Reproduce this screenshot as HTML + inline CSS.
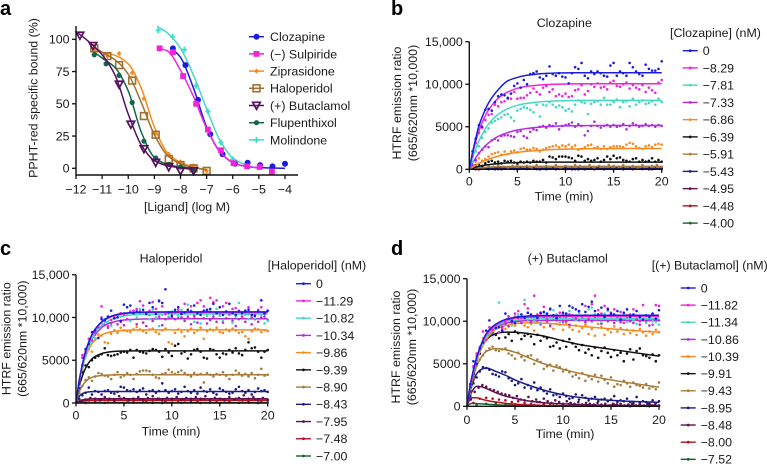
<!DOCTYPE html>
<html lang="en">
<head>
<meta charset="utf-8">
<title>Kinetic binding figure</title>
<style>
html,body{margin:0;padding:0;background:#fff;width:767px;height:464px;overflow:hidden}
svg{display:block;filter:blur(0.3px)}
text{font-family:"Liberation Sans",sans-serif;font-size:12.4px;fill:#1a1a1a}
.panel-letter{font-weight:bold;font-size:20px;fill:#000}
</style>
</head>
<body>
<svg id="figure" width="767" height="464" viewBox="0 0 767 464" xmlns="http://www.w3.org/2000/svg">
  <text class="panel-letter" x="0" y="15">a</text>
  <text class="panel-letter" x="391" y="15">b</text>
  <text class="panel-letter" x="0" y="255">c</text>
  <text class="panel-letter" x="391" y="255">d</text>
</svg>
<script>
/* ---------- panel a data ---------- */
const aXTicks = [-12,-11,-10,-9,-8,-7,-6,-5,-4];
const aYTicks = [0,25,50,75,100];
const aNames = ['Clozapine','(\u2212) Sulpiride','Ziprasidone','Haloperidol','(+) Butaclamol','Flupenthixol','Molindone'];
const aClozapineX = [-8.29,-7.81,-7.33,-6.86,-6.39,-5.91,-5.43,-4.95,-4.48,-4];
const aClozapineY = [93,80,53,26.4,11,3.5,4.3,2.5,1.5,3.5];
const aClozapineFitX = [-8.29,-8,-7.5,-7,-6.5,-6,-5.5,-5,-4];
const aClozapineFitY = [92,86,62,32,13,4.5,1.5,0.5,0];
const aSulpirideX = [-8.8,-8.29,-7.9,-7.4,-6.95,-6.45,-5.97,-5.45,-4.97,-4.5];
const aSulpirideY = [93,90,71.5,50,30,14,4,1.5,1,-2.5];
const aSulpirideFitX = [-8.8,-8.5,-8,-7.5,-7,-6.5,-6,-5.5,-5];
const aSulpirideFitY = [93,91,76,55.5,31,13,4.5,1.5,0.3];
const aZiprasidoneX = [-11.3,-10.8,-10.35,-9.85,-9.4,-8.95,-8.45,-8,-7.5,-7];
const aZiprasidoneY = [91,87,89,74,54,27,11,5,2,-2];
const aZiprasidoneFitX = [-11.3,-11,-10.5,-10,-9.5,-9,-8.5,-8,-7.5,-7];
const aZiprasidoneFitY = [93,90,87.5,81,62,32,12,4.5,1,-1.5];
const aHaloperidolX = [-11.3,-10.8,-10.35,-9.85,-9.4,-8.95,-8.45,-8,-7.5,-7];
const aHaloperidolY = [93,87,80,68,40.5,26,7,2.5,0,-2];
const aHaloperidolFitX = [-11.3,-11,-10.5,-10,-9.5,-9,-8.5,-8,-7.5,-7];
const aHaloperidolFitY = [94,90,84,73,51,26,10,3.5,0.5,-1];
const aButaclamolX = [-11.85,-11.35,-10.35,-9.9,-9.4,-8.95,-8.45,-8,-7.5];
const aButaclamolY = [103,95,65,34,15,4.5,1,-2,-2];
const aButaclamolFitX = [-12,-11.5,-11,-10.5,-10,-9.5,-9,-8.5,-8,-7.5];
const aButaclamolFitY = [106,98,88,72,42,18,6,2,0.5,-1];
const aFlupenthixolX = [-11.3,-10.85,-10.35,-9.85,-9.4,-8.95,-8.45,-8,-7.5];
const aFlupenthixolY = [88,81,72,51,21,8,3,1,-1.5];
const aFlupenthixolFitX = [-11.3,-11,-10.5,-10,-9.5,-9,-8.5,-8,-7.5];
const aFlupenthixolFitY = [90,85.5,78,60,28,8.5,3,1,0];
const aMolindoneX = [-8.85,-8.3,-7.85,-7.4,-6.95,-6.45,-6];
const aMolindoneY = [107,102,92,64,44,20,7];
const aMolindoneFitX = [-8.9,-8.5,-8,-7.5,-7,-6.5,-6,-5.5];
const aMolindoneFitY = [110,105,93,72,46,22,8,2.5];

/* ---------- shared time-course axes ---------- */
const timeTicks = [0,5,10,15,20];
const ratioTicks = [0,5000,10000,15000];
const ratioTickLabels = ['0','5000','10,000','15,000'];
const fitTimes = [0,0.25,0.5,1,1.5,2,3,4,5,6,8,10,12,15,20];

/* ---------- panel b data ---------- */
const bLabels = ['0','\u22128.29','\u22127.81','\u22127.33','\u22126.86','\u22126.39','\u22125.91','\u22125.43','\u22124.95','\u22124.48','\u22124.00'];
const b_f0 = [0,1500,2800,5100,6600,7800,9350,10400,10800,11050,11280,11340,11350,11350,11350];
const b_f1 = [0,1370,2560,4490,5920,6970,8340,9100,9520,9760,9960,10020,10050,10050,10050];
const b_f2 = [0,1000,1870,3320,4440,5320,6470,7120,7520,7750,7980,8060,8100,8100,8100];
const b_f3 = [0,550,1050,1880,2560,3100,3870,4320,4620,4800,5020,5100,5130,5150,5150];
const b_f4 = [0,200,375,690,960,1190,1550,1800,1990,2120,2280,2370,2410,2430,2450];
const b_f5 = [0,100,200,350,460,550,670,750,790,820,840,850,850,850,850];
const b_f6 = [0,50,90,160,210,250,300,330,340,350,350,350,350,350,350];
const b_f7 = [0,20,40,70,90,100,120,130,130,130,130,130,130,130,130];
const b_f8 = [0,15,30,50,70,80,90,100,100,100,100,100,100,100,100];
const b_f9 = [0,10,20,30,40,50,50,60,60,60,60,60,60,60,60];
const b_f10 = [0,5,10,15,20,25,30,30,30,30,30,30,30,30,30];
const b_s0 = [2100,3600,5200,5000,7000,7100,6900,7900,8600,8800,8700,8400,8900,9800,10100,9600,10500,10000,11200,11300,11500,10800,10600,11000,12100,11200,11000,11300,10900,10800,10100,11300,12000,11800,12500,11000,10700,11500,11200,11500,11300,11000,10900,12200,12500,11000,11500,11300,11000,12500,12000,11500,11200,11000,12300,11800,11600,11600,11800,12700];
const b_s1 = [1500,3100,4300,4900,5800,6400,6500,7600,7400,7900,8000,8300,8300,9100,8300,8400,8400,8700,9000,9500,9100,8800,9600,9800,9100,9400,8600,8800,8600,8900,8500,8600,9300,9400,9900,8800,9200,10000,9700,10100,9600,9700,9400,10200,10400,9800,9700,10000,10200,9500,9900,9600,9400,9900,9100,9600,9300,9000,10200,10500];
const b_s2 = [900,2100,2700,3700,4400,4800,5500,5700,5900,6100,6400,6500,6100,5700,6900,7100,7300,7200,7000,6700,7600,6200,7600,7500,7900,7600,7300,7500,7300,6900,7100,6800,7600,8100,7900,7800,6500,7700,7900,8000,7600,8400,7600,7600,7900,8200,7300,7900,8000,7400,8300,7600,7900,8100,7700,7800,8000,7600,8300,7900];
const b_s3 = [500,1100,1900,2300,2700,2600,3400,3600,3400,3900,4000,4000,3900,3800,4400,4500,3900,3700,4400,4700,4600,5000,5100,4900,5200,5100,5400,4700,5100,5200,5300,5500,5000,5300,5100,4000,4500,5100,5600,5100,4900,5100,5200,5000,5200,5000,5100,5300,4700,5100,5400,5200,5000,5100,5300,5100,5200,5000,5200,5100];
const b_s4 = [300,900,1300,1000,1200,1500,1800,1900,2000,1700,2100,1800,2100,2200,2000,2400,2500,2300,2300,2500,2400,2100,2300,2500,2600,2700,2800,2600,2800,2700,2900,2600,2800,2300,2400,2600,2800,2900,2500,2600,2400,2700,2400,2600,2700,2700,2700,2600,2900,3100,3000,2700,2500,2400,2700,2800,2600,2900,3000,2900];
const b_s5 = [300,500,600,400,700,900,1000,800,900,700,1000,900,1000,800,700,900,800,900,800,1000,900,900,1100,800,1500,1400,1200,1500,1500,1500,1400,1300,1000,1600,1500,1000,1200,1000,1100,1300,900,1100,1500,1200,1600,1300,1400,1100,1000,900,1200,1300,900,1100,900,1000,1300,900,1100,900];
const b_s6 = [100,300,200,400,300,500,300,200,400,500,300,400,200,500,300,400,300,500,200,400,300,500,400,300,500,200,400,300,500,400,300,500,300,400,200,500,300,400,500,300];
const b_s7 = [50,200,100,0,100,200,50,150,100,200,0,100,150,50,200,100,0,150,100,200,50,100,200,0,150,100,50,200,100,150];
const b_s8 = [0,100,50,150,0,100,50,100,150,50,0,100,100,50,150,0,100,50,100,150,0,100,50,150,100,50,100,0,100,50];
const b_s9 = [0,50,20,80,0,60,30,70,0,50,20,60,0,70,30,50,0,60,20,80];
const b_s10 = [200,0,30,60,0,40,20,0,50,10,30,0,60,20,0,40,10,30,0,50];

/* ---------- panel c data ---------- */
const cLabels = ['0','\u221211.29','\u221210.82','\u221210.34','\u22129.86','\u22129.39','\u22128.90','\u22128.43','\u22127.95','\u22127.48','\u22127.00'];
const c_f0 = [0,2000,3640,6020,7600,8640,9780,10270,10490,10580,10640,10650,10650,10650,10650];
const c_f1 = [0,2000,3600,5950,7500,8550,9700,10200,10430,10530,10590,10600,10600,10600,10600];
const c_f2 = [0,1800,3350,5600,7100,8150,9350,9900,10170,10300,10380,10400,10400,10400,10400];
const c_f3 = [0,1950,3500,5700,7100,8000,9100,9500,9700,9780,9840,9850,9850,9850,9850];
const c_f4 = [0,1890,3360,5400,6640,7390,8120,8390,8490,8530,8550,8550,8550,8550,8550];
const c_f5 = [0,1480,2600,4070,4950,5440,5880,6030,6080,6100,6100,6100,6100,6100,6100];
const c_f6 = [0,990,1690,2510,2920,3110,3250,3290,3300,3300,3300,3300,3300,3300,3300];
const c_f7 = [0,630,980,1240,1320,1340,1350,1350,1350,1350,1350,1350,1350,1350,1350];
const c_f8 = [0,200,320,430,480,500,500,500,500,500,500,500,500,500,500];
const c_f9 = [0,120,200,270,290,300,300,300,300,300,300,300,300,300,300];
const c_f10 = [0,20,30,40,50,50,50,50,50,50,50,50,50,50,50];
const c_s0 = [2200,4400,6300,6900,8300,8500,7600,9800,9700,10100,10800,9900,10000,9600,11500,11200,11400,10500,10700,10600,10900,10400,11700,11200,10400,11900,11700,13300,10600,10200,10900,11200,10400,10600,10900,10700,11400,10500,10300,10800,10900,11000,11600,10500,11200,10300,10700,11600,10500,10300,10700,10500,10800,10900,10300,10200,10700,12000,10500,10800];
const c_s1 = [2500,5600,5800,7500,7300,8200,8900,11300,9600,9000,9700,10000,10300,10500,10300,9800,10700,10800,11000,11900,11400,10500,10800,11800,11000,12000,11300,10400,9900,10500,10600,10900,10400,11600,10900,11300,10100,11700,12000,11300,10800,12300,11800,12000,10500,11300,11700,10400,11000,11100,10800,10100,10600,11200,10000,10300,10900,11200,10400,10800];
const c_s2 = [2000,4200,5500,6500,7200,7600,8800,9300,9800,9500,9000,10000,10200,10100,10500,10300,9600,10800,10000,11000,10600,10500,9800,10900,10000,9000,10300,10500,10100,10700,10600,10200,10900,10400,11500,10800,9500,10400,9300,10600,10200,10800,10400,11000,10200,9700,10500,10300,9400,10100,11700,10500,10300,9800,10100,9900,10500,10300,9300,9600];
const c_s3 = [2000,5300,6000,6500,7300,8000,8700,10000,9100,8800,9300,9900,9200,9500,9100,9800,9700,10500,9200,10700,9400,9000,10300,9600,9900,10100,9100,9800,10600,10000,9800,9900,10000,9600,10100,9200,10300,9400,10600,9900,9300,9700,10100,9500,10200,9400,9900,10300,9600,9000,9800,10100,9500,10400,9200,9800,9500,10000,10100,9700];
const c_s4 = [2300,3900,5700,6300,6000,7400,8000,7900,7100,7000,8100,8500,8200,8800,8500,8400,8300,8600,8900,8600,8400,8200,8600,8700,8300,8100,8500,8700,7100,6900,8200,8600,8300,7800,8400,8700,8200,8500,8800,7500,8400,8600,8500,8800,8300,8200,8600,8400,8700,8500,8200,8300,7800,7500,8400,8700,8600,8300,8500,8400];
const c_s5 = [1800,3600,4400,4200,5000,5300,5500,5700,6400,5600,5500,5600,5700,5900,6000,5900,6200,5300,6200,6000,5900,5800,6100,6300,6200,6000,5400,6300,5900,5500,6700,6900,5800,6000,5200,5700,6200,6300,6000,5300,5200,6300,6200,5700,5300,5800,5700,6200,5900,6400,5800,5600,6200,7100,6400,6500,6000,5300,6000,6200];
const c_s6 = [1200,2000,2700,3000,2600,3100,3500,3400,3200,3100,2800,3300,3600,3000,3200,3500,3300,2800,3400,3700,3800,3800,3700,3300,3000,2900,3400,3500,3900,3600,3400,3600,3800,3500,3300,3100,3500,3300,3400,2400,3500,3300,3100,3400,3300,3600,3200,2800,3300,3800,3500,3200,3400,3100,3500,2900,3300,4000,3200,3300];
const c_s7 = [500,900,1200,1800,1000,1400,1300,1000,1400,1500,1200,1100,1300,1900,1800,1500,1400,1600,1300,1500,1700,1000,1400,1500,1200,1400,2300,1500,1200,1400,1600,1100,1300,1900,1400,1200,1500,1100,1800,1400,1300,1600,1200,1000,1700,1500,1300,1100,1200,1600,1900,1400,1200,1500,1000,1300,1700,1400,1500,1300];
const c_s8 = [200,400,600,500,300,700,500,400,800,600,300,500,700,400,600,800,500,300,600,500,700,400,600,300,700,500,800,400,600,500,300,700,400,600,900,500,700,300,600,400];
const c_s9 = [100,300,200,400,300,200,500,300,100,400,200,300,500,200,400,100,300,500,200,400,300,100,400,200,500,300,200,400,100,300];
const c_s10 = [0,60,20,80,0,40,100,20,0,60,30,80,10,50,0,70,20,40,0,60];

/* ---------- panel d data ---------- */
const dLabels = ['0','\u221211.82','\u221211.34','\u221210.86','\u221210.39','\u22129.91','\u22129.43','\u22128.95','\u22128.48','\u22128.00','\u22127.52'];
const d_f0 = [0,1870,3410,5710,7340,8520,9660,10210,10470,10590,10670,10690,10700,10700,10700];
const d_f1 = [0,1850,3350,5650,7250,8400,9550,10100,10350,10470,10530,10550,10550,10550,10550];
const d_f2 = [0,1800,3280,5500,7100,8200,9350,9900,10130,10230,10290,10300,10300,10300,10300];
const d_f3 = [0,1900,3400,5600,7150,8200,9300,9750,9950,10050,10090,10100,10100,10100,10100];
const d_f4 = [0,1700,3100,5300,6800,7850,9050,9500,9700,9800,9780,9600,9400,9100,8700];
const d_f5 = [0,1600,3000,5300,6800,7800,8550,8720,8700,8600,8250,7700,7200,6700,5900];
const d_f6 = [0,1400,2700,4700,5800,6450,6800,6650,6350,5900,5000,4350,3800,3100,2250];
const d_f7 = [0,1300,2400,3800,4350,4500,4100,3650,3100,2650,1900,1350,1000,700,450];
const d_f8 = [0,900,1700,2350,2300,2100,1600,1200,950,700,420,280,200,120,80];
const d_f9 = [0,700,1000,1000,850,700,500,350,250,180,100,60,40,20,10];
const d_f10 = [0,250,350,320,280,240,180,130,100,80,50,30,20,10,0];
const d_s0 = [2600,5300,5000,6800,7500,8900,10100,8400,9200,9300,8900,10900,10300,10000,9800,10500,10800,10400,11000,10800,10600,10400,11000,11100,10900,11400,10700,10400,11800,11000,10900,11800,11600,11400,11200,12000,11100,11700,12300,11200,10800,11600,10500,11400,10900,10800,11200,10200,11000,11400,10500,10800,11200,10500,10200,10700,10500,10900,10300,11300];
const d_s1 = [2300,4700,6200,6800,8800,7800,9300,9000,9500,9800,9100,9900,10600,10200,10900,11200,10400,12000,11500,10500,13000,10800,10900,11700,10200,11500,10700,10300,11000,9900,10500,10800,10700,10300,11200,10500,11800,10300,12000,13000,11300,10900,11800,11500,11000,11400,10500,11100,9800,10700,10800,11400,10200,10000,11900,10600,10100,9600,11900,11800];
const d_s2 = [2000,4500,5800,6900,7300,8400,9000,9300,9600,12200,9800,10000,10100,9500,10600,10800,10300,12500,10200,10700,10000,10400,9800,11000,10500,10300,11300,10800,9900,10500,10900,11200,10500,10100,11000,10400,10700,11400,11600,10800,10300,9900,10900,11200,10300,10700,10200,10500,10800,9900,10300,10100,9700,10600,10200,9800,10400,10000,9900,9600];
const d_s3 = [2200,4000,5900,7000,7600,8300,8700,9000,9500,8700,9300,9700,9400,9900,10000,10200,9800,10400,10500,9900,10200,10300,9700,10400,10000,9500,10300,10100,10500,10700,10000,9600,10300,10400,10100,10600,9900,10200,10000,10500,10300,9700,10400,10000,10600,9800,10100,9900,10200,10500,10000,9800,10300,9600,10100,9900,9500,10200,10000,10100];
const d_s4 = [2400,4600,5700,6800,8000,7900,8700,8900,9200,9400,9500,9100,9900,9700,9500,10000,9800,9500,9300,9700,8900,9900,9600,9300,10200,9400,9100,9700,9600,9000,9800,9300,9000,9500,8800,9200,9600,8500,9100,8300,9700,9300,8400,9000,8700,9400,8800,9200,8500,9000,8600,8900,8400,9100,8700,8300,8800,8500,9000,8700];
const d_s5 = [1900,3800,5400,6200,7300,7900,8300,8700,8400,8000,8900,8100,8500,7700,8800,8600,7900,8300,8500,8200,7300,8400,7700,8200,8000,7000,7100,7500,6800,7700,7000,7900,7400,7000,6600,7200,6300,6700,6000,6900,5700,6500,6900,6300,5800,6600,6000,6300,5300,6200,6700,5500,6500,6800,6000,5900,5700,6100,5300,6000];
const d_s6 = [1500,3300,4800,5500,6000,6500,6800,7000,6600,6500,6700,6800,6200,6000,5600,6300,5800,5400,5900,6000,5000,5500,5200,4400,4700,4900,4200,4800,4600,4100,4300,4000,3500,3700,3300,3900,3000,3500,3200,3700,2900,3600,3100,2700,3400,2300,2600,2500,3000,2700,2300,2800,2500,2400,2200,2600,2100,2300,2000,2800];
const d_s7 = [1200,2700,3400,4100,4600,4500,4300,3800,3700,3500,4100,4000,3300,3000,2500,2700,3200,2200,2500,2100,2800,1900,2200,1800,1500,2000,1300,1400,1100,1500,1200,900,1000,1400,800,1300,1000,700,900,1100,600,800,900,600,800,1200,500,700,600,900,500,400,1100,400,600,500,300,700,400,600];
const d_s8 = [800,1700,2200,2500,2300,2000,1900,1700,1500,1400,1300,1000,1200,800,700,1100,600,800,500,900,600,400,700,500,300,600,400,300,500,200,400,300,200,400,200,300,100,300,200,300,100,200,300,100,200,100,300,100,200,100];
const d_s9 = [400,900,1000,900,800,700,500,600,400,300,500,200,300,100,200,300,100,200,100,150,100,50,200,100,50,150,100,50,100,50];
const d_s10 = [200,300,350,300,250,200,150,200,100,150,50,100,50,0,100,50,0,50,0,50];

/* ---------- styling ---------- */
const timeColors = ['#1c1cdc','#f024d8','#44d8c4','#b02cdc','#f68a20','#111111','#a87c3c','#1c1c84','#5e1050','#b01020','#1c6030'];
const aColors = ['#1c1cdc','#f024d8','#f68a20','#a0702c','#561060','#14664a','#44d8c8'];

const svg = document.getElementById('figure');
const NS = 'http://www.w3.org/2000/svg';

function mk(tag, attrs, parent) {
  const el = document.createElementNS(NS, tag);
  for (const k in attrs) el.setAttribute(k, attrs[k]);
  (parent || svg).appendChild(el);
  return el;
}
function group(name) {
  const g = mk('g', {});
  
  
  return g;
}
function label(parent, x, y, str, anchor, name, rotate) {
  const t = mk('text', {x: x, y: y, 'text-anchor': anchor || 'start'}, parent);
  if (rotate) t.setAttribute('transform', 'rotate(-90 ' + x + ' ' + y + ')');
  t.textContent = str;
  
  
  return t;
}
function line(parent, x1, y1, x2, y2, color, width, name) {
  const l = mk('line', {x1: x1, y1: y1, x2: x2, y2: y2, stroke: color, 'stroke-width': width}, parent);
  
  
  return l;
}
function smoothPath(pts) {
  const n = pts.length, d = [], m = [];
  for (let i = 0; i < n - 1; i++) d[i] = (pts[i+1][1] - pts[i][1]) / (pts[i+1][0] - pts[i][0]);
  m[0] = d[0]; m[n-1] = d[n-2];
  for (let i = 1; i < n - 1; i++) {
    m[i] = d[i-1] * d[i] <= 0 ? 0 : 2 * d[i-1] * d[i] / (d[i-1] + d[i]);
  }
  let s = 'M' + pts[0][0].toFixed(2) + ' ' + pts[0][1].toFixed(2);
  for (let i = 0; i < n - 1; i++) {
    const h = (pts[i+1][0] - pts[i][0]) / 3;
    s += 'C' + (pts[i][0] + h).toFixed(2) + ' ' + (pts[i][1] + h * m[i]).toFixed(2) + ' ' +
         (pts[i+1][0] - h).toFixed(2) + ' ' + (pts[i+1][1] - h * m[i+1]).toFixed(2) + ' ' +
         pts[i+1][0].toFixed(2) + ' ' + pts[i+1][1].toFixed(2);
  }
  return s;
}
function marker(parent, kind, x, y, color, name) {
  let el;
  if (kind === 'circle') {
    el = mk('circle', {cx: x, cy: y, r: 3, fill: color}, parent);
  } else if (kind === 'dot') {
    el = mk('circle', {cx: x, cy: y, r: 2.6, fill: color}, parent);
  } else if (kind === 'square') {
    el = mk('rect', {x: x - 2.9, y: y - 2.9, width: 5.8, height: 5.8, fill: color}, parent);
  } else if (kind === 'hollow-square') {
    el = mk('rect', {x: x - 3.4, y: y - 3.4, width: 6.8, height: 6.8, fill: 'none', stroke: color, 'stroke-width': 1.6}, parent);
  } else if (kind === 'triangle') {
    el = mk('path', {d: 'M' + (x-3.8) + ' ' + (y-3.2) + 'H' + (x+3.8) + 'L' + x + ' ' + (y+3.8) + 'Z', fill: 'none', stroke: color, 'stroke-width': 1.7}, parent);
  } else if (kind === 'diamond') {
    el = mk('path', {d: 'M' + x + ' ' + (y-2.6) + 'L' + (x+2.4) + ' ' + y + 'L' + x + ' ' + (y+2.6) + 'L' + (x-2.4) + ' ' + y + 'Z', fill: color}, parent);
  } else {
    el = mk('path', {d: 'M' + x + ' ' + (y-3) + 'V' + (y+3) + 'M' + (x-2.6) + ' ' + y + 'H' + (x+2.6), stroke: color, 'stroke-width': 1.8, fill: 'none'}, parent);
  }
  
  
  return el;
}

/* ---------- panel a ---------- */
const aX = v => 76 + (v + 12) * 26.125;
const aY = v => 168.3 - v * 1.29;
const aKinds = ['circle','square','diamond','hollow-square','triangle','dot','plus'];
const aSeries = [
  [aClozapineX, aClozapineY, aClozapineFitX, aClozapineFitY],
  [aSulpirideX, aSulpirideY, aSulpirideFitX, aSulpirideFitY],
  [aZiprasidoneX, aZiprasidoneY, aZiprasidoneFitX, aZiprasidoneFitY],
  [aHaloperidolX, aHaloperidolY, aHaloperidolFitX, aHaloperidolFitY],
  [aButaclamolX, aButaclamolY, aButaclamolFitX, aButaclamolFitY],
  [aFlupenthixolX, aFlupenthixolY, aFlupenthixolFitX, aFlupenthixolFitY],
  [aMolindoneX, aMolindoneY, aMolindoneFitX, aMolindoneFitY]
];
(function () {
  const plot = group('dose-response-series');
  [6,0,1,2,3,5,4].forEach(function (i) {
    const s = aSeries[i], slug = aNames[i].replace(/[^A-Za-z]/g, '').toLowerCase();
    const p = mk('path', {d: smoothPath(s[2].map((v, k) => [aX(v), aY(s[3][k])])), fill: 'none', stroke: aColors[i], 'stroke-width': 1.5}, plot);
    
    
    s[0].forEach((v, k) => marker(plot, aKinds[i], aX(v), aY(s[1][k]), aColors[i], 'point-' + slug));
  });
  const axes = group('dose-response-axes');
  line(axes, 76, 26, 76, 175.6, '#111', 1.4, 'y-axis');
  line(axes, 76, 175, 298, 175, '#111', 1.4, 'x-axis');
  aYTicks.forEach(function (v) {
    line(axes, 72, aY(v), 76, aY(v), '#111', 1.3, 'y-tick');
    label(axes, 69.5, aY(v) + 4.4, String(v), 'end', 'y-tick-label');
  });
  aXTicks.forEach(function (v) {
    line(axes, aX(v), 175, aX(v), 179, '#111', 1.3, 'x-tick');
    label(axes, aX(v), 193.5, String(v).replace('-', '\u2212'), 'middle', 'x-tick-label');
  });
  label(axes, 37.5, 98, 'PPHT-red specific bound (%)', 'middle', 'y-axis-title', true);
  label(axes, 187, 211, '[Ligand] (log M)', 'middle', 'x-axis-title');
  const legend = group('dose-response-legend');
  aNames.forEach(function (name, i) {
    const y = 36.7 + i * 17.2;
    line(legend, 249, y, 264, y, aColors[i], 1.5, 'legend-line');
    marker(legend, aKinds[i], 256.5, y, aColors[i], 'legend-marker');
    label(legend, 270, y + 4.4, name, 'start', 'legend-entry');
  });
})();

/* ---------- time-course panels ---------- */
const panels = [
  {id: 'clozapine', x0: 469.3, x20: 661.7, y0: 169.3, y15: 41.7, title: 'Clozapine', titleX: 564.3, titleY: 27,
   legendTitle: '[Clozapine] (nM)', legendTitleX: 670, legendTitleY: 37, lineX: 682.7, legendY: 50.7, legendStep: 17.24, tickY: 185.5, xTitleX: 564, xTitleY: 200.5,
   yl1: 401, yl2: 417, ylY: 103, labels: bLabels,
   fits: [b_f0,b_f1,b_f2,b_f3,b_f4,b_f5,b_f6,b_f7,b_f8,b_f9,b_f10],
   scatter: [b_s0,b_s1,b_s2,b_s3,b_s4,b_s5,b_s6,b_s7,b_s8,b_s9,b_s10]},
  {id: 'haloperidol', x0: 76, x20: 267.7, y0: 403, y15: 274.7, title: 'Haloperidol', titleX: 171, titleY: 262.5,
   legendTitle: '[Haloperidol] (nM)', legendTitleX: 267.7, legendTitleY: 269.5, lineX: 296, legendY: 283.7, legendStep: 17.23, tickY: 419.5, xTitleX: 171, xTitleY: 435.5,
   yl1: 10.5, yl2: 26.5, ylY: 338.7, labels: cLabels,
   fits: [c_f0,c_f1,c_f2,c_f3,c_f4,c_f5,c_f6,c_f7,c_f8,c_f9,c_f10],
   scatter: [c_s0,c_s1,c_s2,c_s3,c_s4,c_s5,c_s6,c_s7,c_s8,c_s9,c_s10]},
  {id: 'butaclamol', x0: 467, x20: 659, y0: 406.3, y15: 278.7, title: '(+) Butaclamol', titleX: 567.7, titleY: 262.5,
   legendTitle: '[(+) Butaclamol] (nM)', legendTitleX: 651.7, legendTitleY: 269.5, lineX: 680.7, legendY: 288, legendStep: 17.13, tickY: 424, xTitleX: 565, xTitleY: 438,
   yl1: 400, yl2: 416, ylY: 347, labels: dLabels,
   fits: [d_f0,d_f1,d_f2,d_f3,d_f4,d_f5,d_f6,d_f7,d_f8,d_f9,d_f10],
   scatter: [d_s0,d_s1,d_s2,d_s3,d_s4,d_s5,d_s6,d_s7,d_s8,d_s9,d_s10]}
];
panels.forEach(function (P) {
  const xs = t => P.x0 + t * (P.x20 - P.x0) / 20;
  const ys = v => P.y0 - v * (P.y0 - P.y15) / 15000;
  const plot = group(P.id + '-series');
  for (let i = P.fits.length - 1; i >= 0; i--) {
    const vals = P.scatter[i];
    vals.forEach(function (v, k) {
      const c = mk('circle', {cx: xs((k + 1) * 20 / vals.length).toFixed(2), cy: ys(v).toFixed(2), r: 1.3, fill: timeColors[i]}, plot);
      
      
    });
    const p = mk('path', {d: smoothPath(fitTimes.map((t, k) => [xs(t), ys(P.fits[i][k])])), fill: 'none', stroke: timeColors[i], 'stroke-width': 1.5}, plot);
    
    
  }
  const axes = group(P.id + '-axes');
  line(axes, P.x0, P.y15, P.x0, P.y0 + 0.6, '#111', 1.4, 'y-axis');
  line(axes, P.x0, P.y0, P.x20, P.y0, '#111', 1.4, 'x-axis');
  ratioTicks.forEach(function (v, i) {
    line(axes, P.x0 - 4, ys(v), P.x0, ys(v), '#111', 1.3, 'y-tick');
    label(axes, P.x0 - 6.5, ys(v) + 4.4, ratioTickLabels[i], 'end', 'y-tick-label');
  });
  timeTicks.forEach(function (t) {
    line(axes, xs(t), P.y0, xs(t), P.y0 + 3.5, '#111', 1.3, 'x-tick');
    label(axes, xs(t), P.tickY, String(t), 'middle', 'x-tick-label');
  });
  label(axes, P.xTitleX, P.xTitleY, 'Time (min)', 'middle', 'x-axis-title');
  label(axes, P.yl1, P.ylY, 'HTRF emission ratio', 'middle', 'y-axis-title', true);
  label(axes, P.yl2, P.ylY, '(665/620nm *10,000)', 'middle', 'y-axis-title-units', true);
  label(axes, P.titleX, P.titleY, P.title, 'middle', 'chart-title');
  const legend = group(P.id + '-legend');
  label(legend, P.legendTitleX, P.legendTitleY, P.legendTitle, 'start', 'legend-title');
  P.labels.forEach(function (name, i) {
    const y = P.legendY + i * P.legendStep;
    line(legend, P.lineX, y, P.lineX + 15, y, timeColors[i], 1.4, 'legend-line');
    const d = mk('circle', {cx: P.lineX + 7.5, cy: y, r: 1.4, fill: timeColors[i]}, legend);
    
    
    label(legend, P.lineX + 20, y + 4.4, name, 'start', 'legend-entry');
  });
});
</script>
</body>
</html>
